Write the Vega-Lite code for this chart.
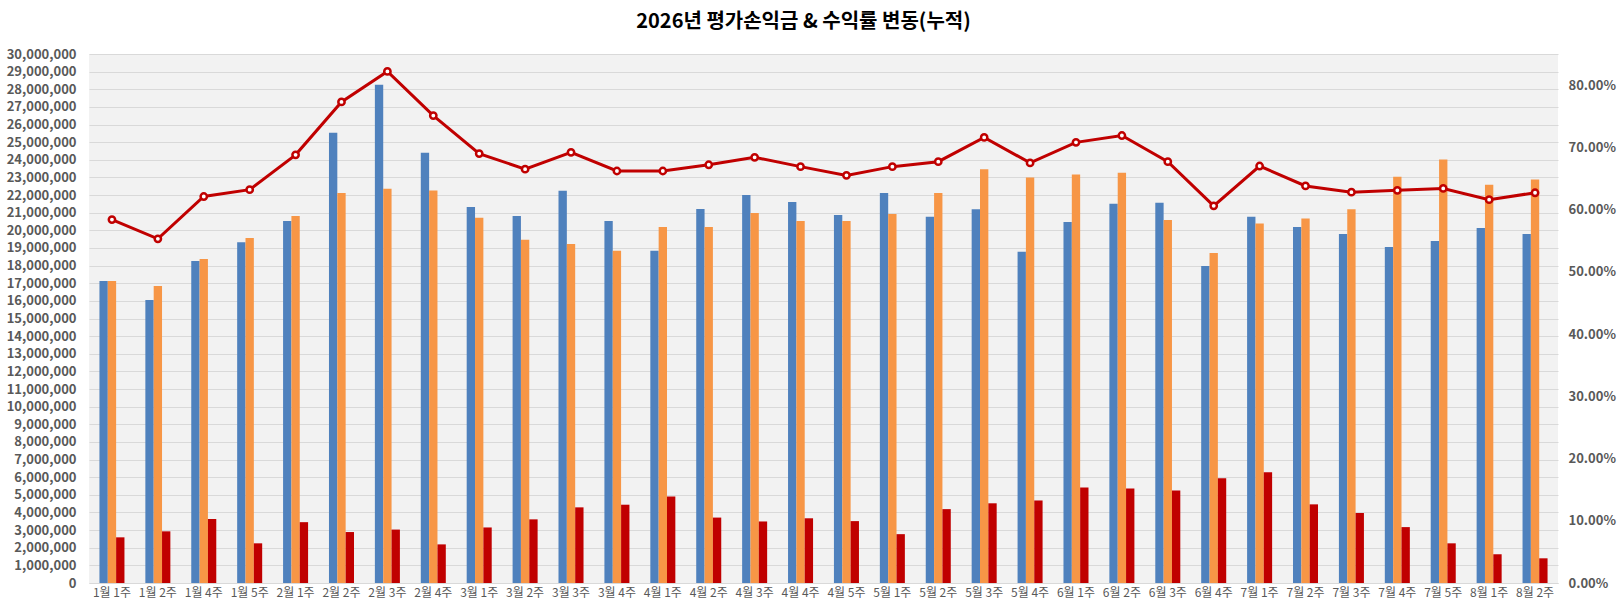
{
  "$schema": "https://vega.github.io/schema/vega-lite/v6.json",
  "width": 1469,
  "height": 529,
  "autosize": "none",
  "padding": {"left": 89, "top": 54, "right": 63, "bottom": 16},
  "background": "#ffffff",
  "title": {
    "text": "2026년 평가손익금 & 수익률 변동(누적)",
    "fontSize": 20,
    "fontWeight": "bold",
    "font": "Noto Sans CJK KR",
    "color": "#000000",
    "anchor": "middle",
    "dx": -20,
    "offset": 16
  },
  "data": {
    "values": [
      {"week": "1월 1주", "s1": 17120000, "s2": 17120000, "s3": 2590000, "rate": 0.584},
      {"week": "1월 2주", "s1": 16050000, "s2": 16840000, "s3": 2930000, "rate": 0.553},
      {"week": "1월 4주", "s1": 18260000, "s2": 18380000, "s3": 3630000, "rate": 0.621},
      {"week": "1월 5주", "s1": 19330000, "s2": 19570000, "s3": 2250000, "rate": 0.632},
      {"week": "2월 1주", "s1": 20530000, "s2": 20810000, "s3": 3450000, "rate": 0.688},
      {"week": "2월 2주", "s1": 25530000, "s2": 22120000, "s3": 2890000, "rate": 0.773},
      {"week": "2월 3주", "s1": 28260000, "s2": 22360000, "s3": 3030000, "rate": 0.822},
      {"week": "2월 4주", "s1": 24400000, "s2": 22260000, "s3": 2190000, "rate": 0.751},
      {"week": "3월 1주", "s1": 21330000, "s2": 20710000, "s3": 3150000, "rate": 0.690},
      {"week": "3월 2주", "s1": 20810000, "s2": 19470000, "s3": 3610000, "rate": 0.665},
      {"week": "3월 3주", "s1": 22240000, "s2": 19230000, "s3": 4290000, "rate": 0.692},
      {"week": "3월 4주", "s1": 20530000, "s2": 18840000, "s3": 4440000, "rate": 0.662},
      {"week": "4월 1주", "s1": 18840000, "s2": 20190000, "s3": 4900000, "rate": 0.662},
      {"week": "4월 2주", "s1": 21210000, "s2": 20190000, "s3": 3710000, "rate": 0.672},
      {"week": "4월 3주", "s1": 22000000, "s2": 20990000, "s3": 3490000, "rate": 0.684},
      {"week": "4월 4주", "s1": 21610000, "s2": 20530000, "s3": 3670000, "rate": 0.669},
      {"week": "4월 5주", "s1": 20870000, "s2": 20530000, "s3": 3510000, "rate": 0.655},
      {"week": "5월 1주", "s1": 22120000, "s2": 20930000, "s3": 2770000, "rate": 0.669},
      {"week": "5월 2주", "s1": 20770000, "s2": 22120000, "s3": 4190000, "rate": 0.677},
      {"week": "5월 3주", "s1": 21190000, "s2": 23460000, "s3": 4520000, "rate": 0.716},
      {"week": "5월 4주", "s1": 18780000, "s2": 23000000, "s3": 4680000, "rate": 0.675},
      {"week": "6월 1주", "s1": 20470000, "s2": 23160000, "s3": 5420000, "rate": 0.708},
      {"week": "6월 2주", "s1": 21510000, "s2": 23260000, "s3": 5360000, "rate": 0.719},
      {"week": "6월 3주", "s1": 21570000, "s2": 20590000, "s3": 5240000, "rate": 0.677},
      {"week": "6월 4주", "s1": 17980000, "s2": 18720000, "s3": 5940000, "rate": 0.606},
      {"week": "7월 1주", "s1": 20770000, "s2": 20390000, "s3": 6280000, "rate": 0.670},
      {"week": "7월 2주", "s1": 20190000, "s2": 20670000, "s3": 4460000, "rate": 0.638},
      {"week": "7월 3주", "s1": 19790000, "s2": 21190000, "s3": 3970000, "rate": 0.628},
      {"week": "7월 4주", "s1": 19060000, "s2": 23040000, "s3": 3170000, "rate": 0.631},
      {"week": "7월 5주", "s1": 19390000, "s2": 24020000, "s3": 2250000, "rate": 0.634},
      {"week": "8월 1주", "s1": 20130000, "s2": 22580000, "s3": 1630000, "rate": 0.616},
      {"week": "8월 2주", "s1": 19790000, "s2": 22880000, "s3": 1400000, "rate": 0.627}
    ]
  },
  "encoding": {
    "x": {
      "field": "week",
      "type": "nominal",
      "sort": null,
      "scale": {"paddingInner": 0.455, "paddingOuter": 0.2275},
      "axis": {
        "title": null,
        "labelAngle": 0,
        "ticks": false,
        "domainColor": "#d9d9d9",
        "labelPadding": 4,
        "labelFontSize": 12,
        "labelColor": "#595959",
        "labelFont": "Noto Sans CJK KR"
      }
    }
  },
  "layer": [
    {
      "transform": [
        {"fold": ["s1", "s2", "s3"], "as": ["series", "value"]}
      ],
      "mark": {"type": "bar"},
      "encoding": {
        "xOffset": {
          "field": "series",
          "type": "nominal",
          "sort": ["s1", "s2", "s3"],
          "scale": {"paddingInner": 0, "paddingOuter": 0}
        },
        "y": {
          "field": "value",
          "type": "quantitative",
          "scale": {"domain": [0, 30000000], "nice": false},
          "axis": {
            "title": null,
            "orient": "left",
            "values": [0, 1000000, 2000000, 3000000, 4000000, 5000000, 6000000, 7000000, 8000000, 9000000, 10000000, 11000000, 12000000, 13000000, 14000000, 15000000, 16000000, 17000000, 18000000, 19000000, 20000000, 21000000, 22000000, 23000000, 24000000, 25000000, 26000000, 27000000, 28000000, 29000000, 30000000],
            "format": ",.0f",
            "grid": true,
            "gridColor": "#d9d9d9",
            "gridWidth": 1,
            "ticks": false,
            "domain": false,
            "labelPadding": 13,
            "labelFontSize": 13,
            "labelFontWeight": "bold",
            "labelColor": "#595959",
            "labelFont": "Noto Sans CJK KR"
          }
        },
        "color": {
          "field": "series",
          "type": "nominal",
          "scale": {"domain": ["s1", "s2", "s3"], "range": ["#4f81bd", "#f79646", "#c00000"]},
          "legend": null
        }
      }
    },
    {
      "encoding": {
        "y": {
          "field": "rate",
          "type": "quantitative",
          "scale": {"domain": [0, 0.85], "nice": false},
          "axis": {
            "title": null,
            "orient": "right",
            "values": [0, 0.1, 0.2, 0.3, 0.4, 0.5, 0.6, 0.7, 0.8],
            "format": ".2%",
            "grid": false,
            "ticks": false,
            "domain": false,
            "labelPadding": 10,
            "labelFontSize": 13,
            "labelFontWeight": "bold",
            "labelColor": "#595959",
            "labelFont": "Noto Sans CJK KR"
          }
        }
      },
      "layer": [
        {"mark": {"type": "line", "color": "#c00000", "strokeWidth": 3}},
        {
          "mark": {
            "type": "point",
            "filled": false,
            "fill": "#ffffff",
            "fillOpacity": 1,
            "stroke": "#c00000",
            "strokeWidth": 2.5,
            "size": 40,
            "opacity": 1
          }
        }
      ]
    }
  ],
  "resolve": {"scale": {"y": "independent"}},
  "config": {
    "view": {"stroke": null, "fill": "#f2f2f2"}
  }
}
